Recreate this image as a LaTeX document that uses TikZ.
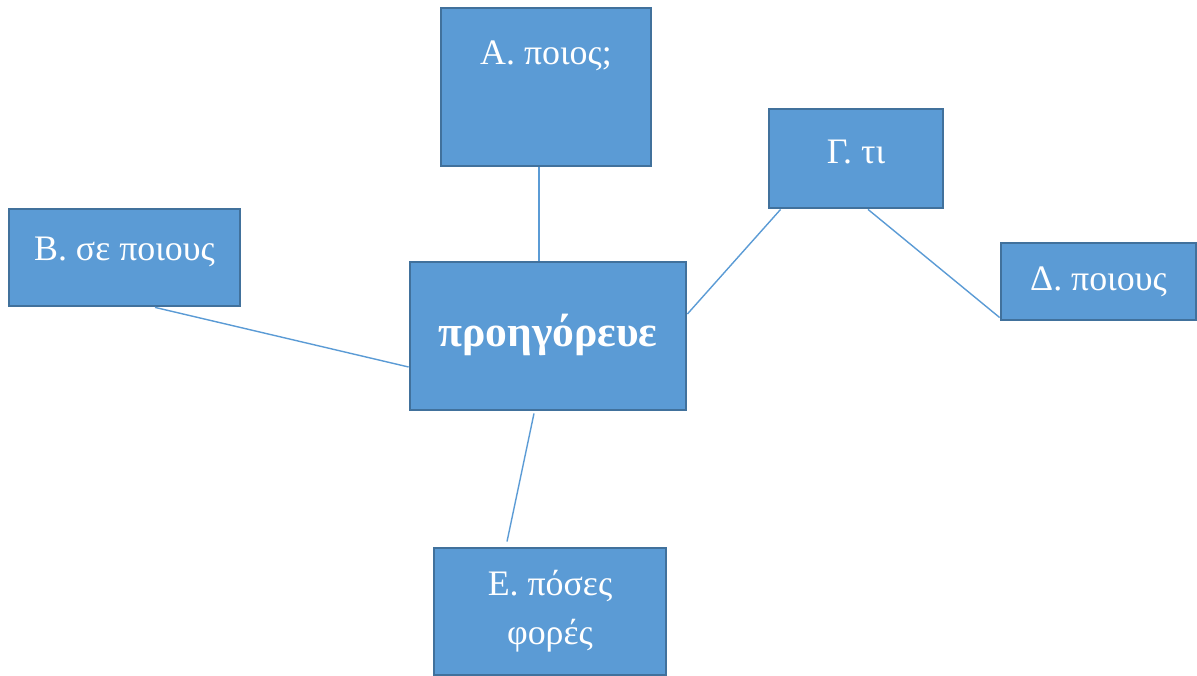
\documentclass[tikz,border=0pt]{standalone}
\usepackage{fontspec}
\setmainfont{Liberation Serif}
\usepackage{xcolor}
\definecolor{boxfill}{HTML}{5B9BD5}
\definecolor{boxline}{HTML}{41719C}
\tikzset{
  >=latex,
}
\tikzstyle{box}=[draw=boxline,line width=0.8pt,fill=boxfill,text=white,
  inner sep=0pt,align=center,font=\fontsize{10.2}{13.9}\selectfont]
\tikzstyle{link}=[draw=boxfill,line width=0.4pt]

\begin{document}
\begin{tikzpicture}
    \useasboundingbox (0,0) rectangle (11.97,-6.76);
    \node[box,minimum width=2.10cm,minimum height=1.58cm,
      label={[text=white,font=\fontsize{10.2}{13.9}\selectfont,anchor=north,yshift=-0.22cm]north:Α. ποιος;}]
      (A) at (5.46,-0.87) {};
    \node[box,minimum width=2.31cm,minimum height=0.97cm] (B) at (1.245,-2.575) {\raisebox{0.18cm}{Β. σε ποιους}};
    \node[box,minimum width=1.74cm,minimum height=0.99cm] (G) at (8.56,-1.585) {\raisebox{0.13cm}{Γ. τι}};
    \node[box,minimum width=1.95cm,minimum height=0.77cm] (D) at (10.985,-2.815) {Δ. ποιους};
    \node[box,minimum width=2.76cm,minimum height=1.48cm,
      font=\fontsize{12.4}{15}\selectfont\bfseries] (P) at (5.48,-3.36) {\raisebox{0.12cm}{προηγόρευε}};
    \node[box,minimum width=2.32cm,minimum height=1.27cm] (E) at (5.50,-6.115) {Ε. πόσες\\φορές};
    % connectors
    \draw[link] ([xshift=-0.07cm]A.south)--([xshift=-0.09cm]P.north);
    \draw[link] ([xshift=0.305cm]B.south)--([yshift=-0.31cm]P.west);
    \draw[link] ([yshift=0.22cm]P.east)--([xshift=0.13cm]G.south west);
    \draw[link] ([xshift=0.12cm]G.south)--([yshift=-0.36cm]D.west);
    \draw[link] ([xshift=-0.14cm,yshift=-0.02cm]P.south)--([xshift=-0.43cm,yshift=0.05cm]E.north);
\end{tikzpicture}
\end{document}
